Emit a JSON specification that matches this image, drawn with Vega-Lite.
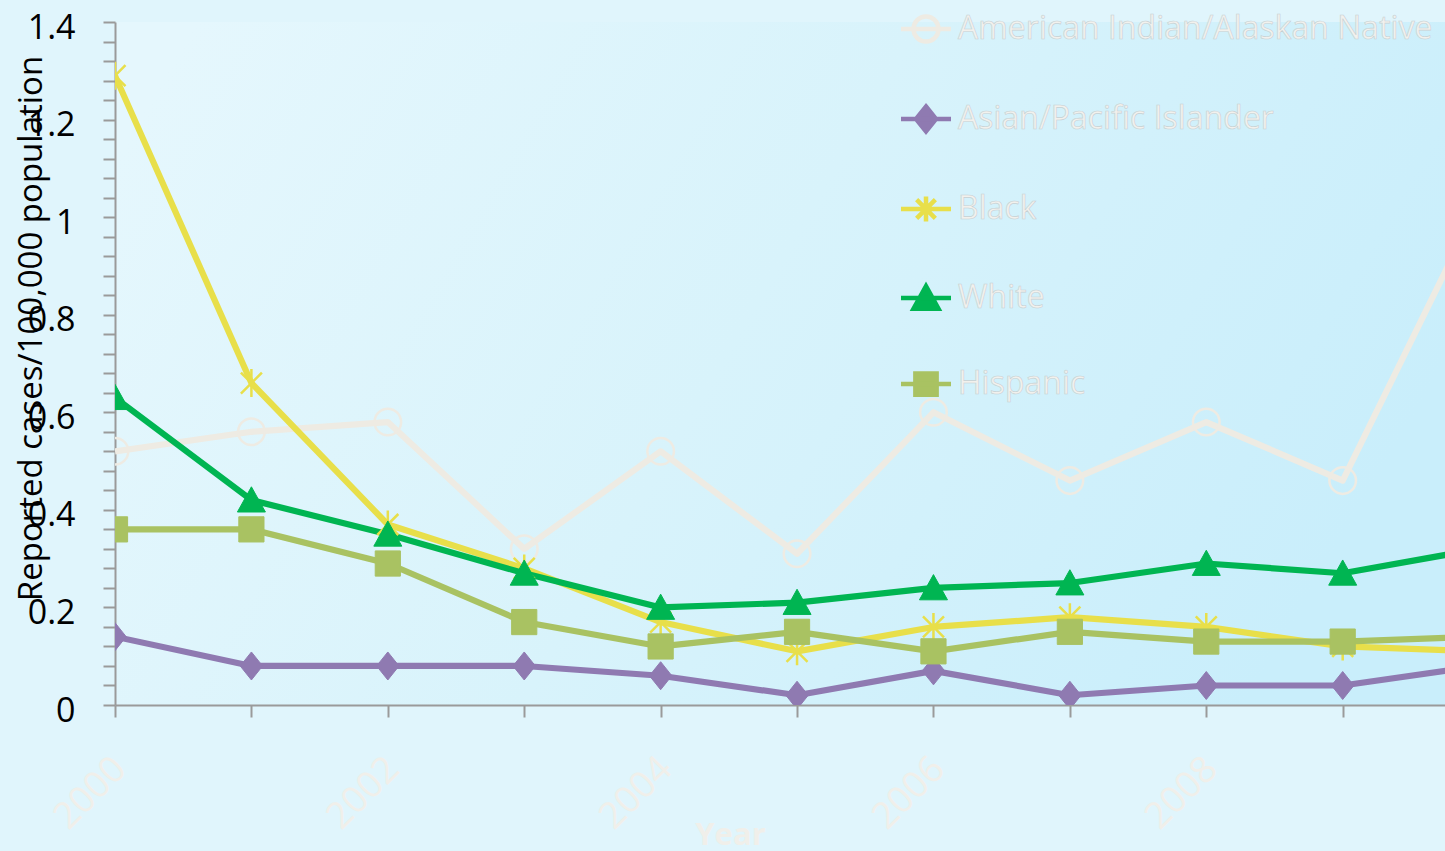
{
  "$schema": "https://vega.github.io/schema/vega-lite/v6.json",
  "width": 1330,
  "height": 683,
  "autosize": {"type": "none"},
  "padding": {"left": 115, "top": 22, "right": 0, "bottom": 146},
  "background": "#e0f5fc",
  "config": {
    "view": {
      "stroke": null,
      "fill": {
        "gradient": "linear",
        "x1": 0, "y1": 0.2, "x2": 1, "y2": 0.5,
        "stops": [
          {"offset": 0, "color": "#e5f7fd"},
          {"offset": 0.5, "color": "#d8f3fb"},
          {"offset": 1, "color": "#c9eefb"}
        ]
      }
    },
    "font": "Open Sans"
  },
  "data": {
    "values": [
      {"year": 2000, "series": "American Indian/Alaskan Native", "rate": 0.52},
      {"year": 2001, "series": "American Indian/Alaskan Native", "rate": 0.56},
      {"year": 2002, "series": "American Indian/Alaskan Native", "rate": 0.58},
      {"year": 2003, "series": "American Indian/Alaskan Native", "rate": 0.32},
      {"year": 2004, "series": "American Indian/Alaskan Native", "rate": 0.52},
      {"year": 2005, "series": "American Indian/Alaskan Native", "rate": 0.31},
      {"year": 2006, "series": "American Indian/Alaskan Native", "rate": 0.60},
      {"year": 2007, "series": "American Indian/Alaskan Native", "rate": 0.46},
      {"year": 2008, "series": "American Indian/Alaskan Native", "rate": 0.58},
      {"year": 2009, "series": "American Indian/Alaskan Native", "rate": 0.46},
      {"year": 2010, "series": "American Indian/Alaskan Native", "rate": 1.03},
      {"year": 2000, "series": "Asian/Pacific Islander", "rate": 0.14},
      {"year": 2001, "series": "Asian/Pacific Islander", "rate": 0.08},
      {"year": 2002, "series": "Asian/Pacific Islander", "rate": 0.08},
      {"year": 2003, "series": "Asian/Pacific Islander", "rate": 0.08},
      {"year": 2004, "series": "Asian/Pacific Islander", "rate": 0.06},
      {"year": 2005, "series": "Asian/Pacific Islander", "rate": 0.02},
      {"year": 2006, "series": "Asian/Pacific Islander", "rate": 0.07},
      {"year": 2007, "series": "Asian/Pacific Islander", "rate": 0.02},
      {"year": 2008, "series": "Asian/Pacific Islander", "rate": 0.04},
      {"year": 2009, "series": "Asian/Pacific Islander", "rate": 0.04},
      {"year": 2010, "series": "Asian/Pacific Islander", "rate": 0.08},
      {"year": 2000, "series": "Black", "rate": 1.29},
      {"year": 2001, "series": "Black", "rate": 0.66},
      {"year": 2002, "series": "Black", "rate": 0.37},
      {"year": 2003, "series": "Black", "rate": 0.28},
      {"year": 2004, "series": "Black", "rate": 0.17},
      {"year": 2005, "series": "Black", "rate": 0.11},
      {"year": 2006, "series": "Black", "rate": 0.16},
      {"year": 2007, "series": "Black", "rate": 0.18},
      {"year": 2008, "series": "Black", "rate": 0.16},
      {"year": 2009, "series": "Black", "rate": 0.12},
      {"year": 2010, "series": "Black", "rate": 0.11},
      {"year": 2000, "series": "White", "rate": 0.63},
      {"year": 2001, "series": "White", "rate": 0.42},
      {"year": 2002, "series": "White", "rate": 0.35},
      {"year": 2003, "series": "White", "rate": 0.27},
      {"year": 2004, "series": "White", "rate": 0.20},
      {"year": 2005, "series": "White", "rate": 0.21},
      {"year": 2006, "series": "White", "rate": 0.24},
      {"year": 2007, "series": "White", "rate": 0.25},
      {"year": 2008, "series": "White", "rate": 0.29},
      {"year": 2009, "series": "White", "rate": 0.27},
      {"year": 2010, "series": "White", "rate": 0.32},
      {"year": 2000, "series": "Hispanic", "rate": 0.36},
      {"year": 2001, "series": "Hispanic", "rate": 0.36},
      {"year": 2002, "series": "Hispanic", "rate": 0.29},
      {"year": 2003, "series": "Hispanic", "rate": 0.17},
      {"year": 2004, "series": "Hispanic", "rate": 0.12},
      {"year": 2005, "series": "Hispanic", "rate": 0.15},
      {"year": 2006, "series": "Hispanic", "rate": 0.11},
      {"year": 2007, "series": "Hispanic", "rate": 0.15},
      {"year": 2008, "series": "Hispanic", "rate": 0.13},
      {"year": 2009, "series": "Hispanic", "rate": 0.13},
      {"year": 2010, "series": "Hispanic", "rate": 0.14}
    ]
  },
  "encoding": {
    "x": {
      "field": "year",
      "type": "quantitative",
      "scale": {"domain": [2000, 2009.75], "nice": false, "zero": false},
      "axis": {
        "title": "Year",
        "values": [2000, 2001, 2002, 2003, 2004, 2005, 2006, 2007, 2008, 2009],
        "format": "d",
        "labelExpr": "datum.value % 2 === 0 ? datum.label : ''",
        "labelAngle": -45,
        "labelAlign": "right",
        "labelBaseline": "middle",
        "labelFontSize": 37,
        "labelColor": "#f0efea",
        "labelPadding": 46,
        "labelOffset": 5,
        "labelFlush": false,
        "labelOverlap": false,
        "labelBound": false,
        "tickSize": 12,
        "tickColor": "#9a9a9a",
        "tickWidth": 2,
        "domainColor": "#9a9a9a",
        "domainWidth": 2,
        "grid": false,
        "titleFontSize": 31,
        "titleFontWeight": "bold",
        "titleColor": "#f0efea",
        "titleX": 615,
        "titleY": 139,
        "titleAlign": "center",
        "titleBaseline": "alphabetic",
        "encode": {
          "labels": {"update": {"stroke": {"value": "#b3c0c4"}, "strokeWidth": {"value": 1}}},
          "title": {"update": {"stroke": {"value": "#b3c0c4"}, "strokeWidth": {"value": 1}}}
        }
      }
    },
    "y": {
      "field": "rate",
      "type": "quantitative",
      "scale": {"domain": [0, 1.4], "nice": false},
      "axis": {
        "title": "Reported cases/100,000 population",
        "values": [0, 0.04, 0.08, 0.12, 0.16, 0.2, 0.24, 0.28, 0.32, 0.36, 0.4, 0.44, 0.48, 0.52, 0.56, 0.6, 0.64, 0.68, 0.72, 0.76, 0.8, 0.84, 0.88, 0.92, 0.96, 1, 1.04, 1.08, 1.12, 1.16, 1.2, 1.24, 1.28, 1.32, 1.36, 1.4],
        "labelExpr": "abs(round(datum.value * 100) % 20) < 0.5 ? format(datum.value, '~g') : ''",
        "labelFontSize": 34,
        "labelColor": "#000000",
        "labelPadding": 28,
        "labelOffset": 6,
        "labelFlush": false,
        "labelOverlap": false,
        "grid": false,
        "tickSize": 12,
        "tickColor": "#9a9a9a",
        "tickWidth": 2,
        "domainColor": "#9a9a9a",
        "domainWidth": 2,
        "titleFontSize": 33,
        "titleFontWeight": "normal",
        "titleColor": "#000000",
        "titleAngle": 270,
        "titleX": -84,
        "titleY": 306,
        "titleAlign": "center",
        "titleBaseline": "middle"
      }
    }
  },
  "layer": [
    {
      "mark": {"type": "line", "strokeWidth": 6.2, "clip": true, "strokeJoin": "round"},
      "encoding": {
        "color": {
          "field": "series",
          "type": "nominal",
          "sort": null,
          "scale": {
            "domain": ["American Indian/Alaskan Native", "Asian/Pacific Islander", "Black", "White", "Hispanic"],
            "range": ["#eeebe3", "#8f7ab1", "#e8df4a", "#00b552", "#a9c262"]
          },
          "legend": {
            "orient": "none",
            "legendX": 795,
            "legendY": -9,
            "title": null,
            "padding": 0,
            "symbolSize": 625,
            "symbolStrokeWidth": 4.5,
            "labelFontSize": 32,
            "labelColor": "#f2f1ed",
            "labelOffset": 16,
            "labelLimit": 0,
            "rowPadding": 46,
            "encode": {
              "symbols": {
                "update": {
                  "shape": {"signal": "datum.value === 'American Indian/Alaskan Native' ? 'M-2,0H2M1,0A1,1 0 1,1 -1,0A1,1 0 1,1 1,0Z' : datum.value === 'Asian/Pacific Islander' ? 'M-2,0H2M0,-1L0.8,0L0,1L-0.8,0Z' : datum.value === 'Black' ? 'M-2,0H2M-0.75,-0.75L0.75,0.75M-0.75,0.75L0.75,-0.75M0,-1V1' : datum.value === 'White' ? 'M-2,0H2M0,-0.95L1,0.85H-1Z' : 'M-2,0H2M-0.85,-0.85H0.85V0.85H-0.85Z'"},
                  "fill": {"signal": "datum.value === 'American Indian/Alaskan Native' || datum.value === 'Black' ? 'transparent' : scale('color', datum.value)"},
                  "strokeWidth": {"value": 4.5},
                  "opacity": {"value": 1}
                }
              },
              "labels": {"update": {"stroke": {"value": "#c6d0d3"}, "strokeWidth": {"value": 0.6}}}
            }
          }
        }
      }
    },
    {
      "transform": [{"filter": "datum.series === 'American Indian/Alaskan Native'"}],
      "mark": {"type": "point", "shape": "M0.95,0A0.95,0.95 0 1,1 -0.95,0A0.95,0.95 0 1,1 0.95,0Z", "size": 784, "fill": "transparent", "stroke": "#eeebe3", "strokeWidth": 2.5, "opacity": 1, "clip": true}
    },
    {
      "transform": [{"filter": "datum.series === 'Asian/Pacific Islander'"}],
      "mark": {"type": "point", "shape": "M0,-1L0.8,0L0,1L-0.8,0Z", "size": 784, "fill": "#8f7ab1", "stroke": "#8f7ab1", "strokeWidth": 1, "opacity": 1, "clip": true}
    },
    {
      "transform": [{"filter": "datum.series === 'Black'"}],
      "mark": {"type": "point", "shape": "M-0.75,-0.75L0.75,0.75M-0.75,0.75L0.75,-0.75M0,-1V1", "size": 784, "fill": "transparent", "stroke": "#e8df4a", "strokeWidth": 2.5, "opacity": 1, "clip": true}
    },
    {
      "transform": [{"filter": "datum.series === 'White'"}],
      "mark": {"type": "point", "shape": "M0,-0.95L1,0.85H-1Z", "size": 784, "fill": "#00b552", "stroke": "#00b552", "strokeWidth": 1, "opacity": 1, "clip": true}
    },
    {
      "transform": [{"filter": "datum.series === 'Hispanic'"}],
      "mark": {"type": "point", "shape": "M-0.9,-0.9H0.9V0.9H-0.9Z", "size": 784, "fill": "#a9c262", "stroke": "#a9c262", "strokeWidth": 1, "opacity": 1, "clip": true}
    }
  ]
}
